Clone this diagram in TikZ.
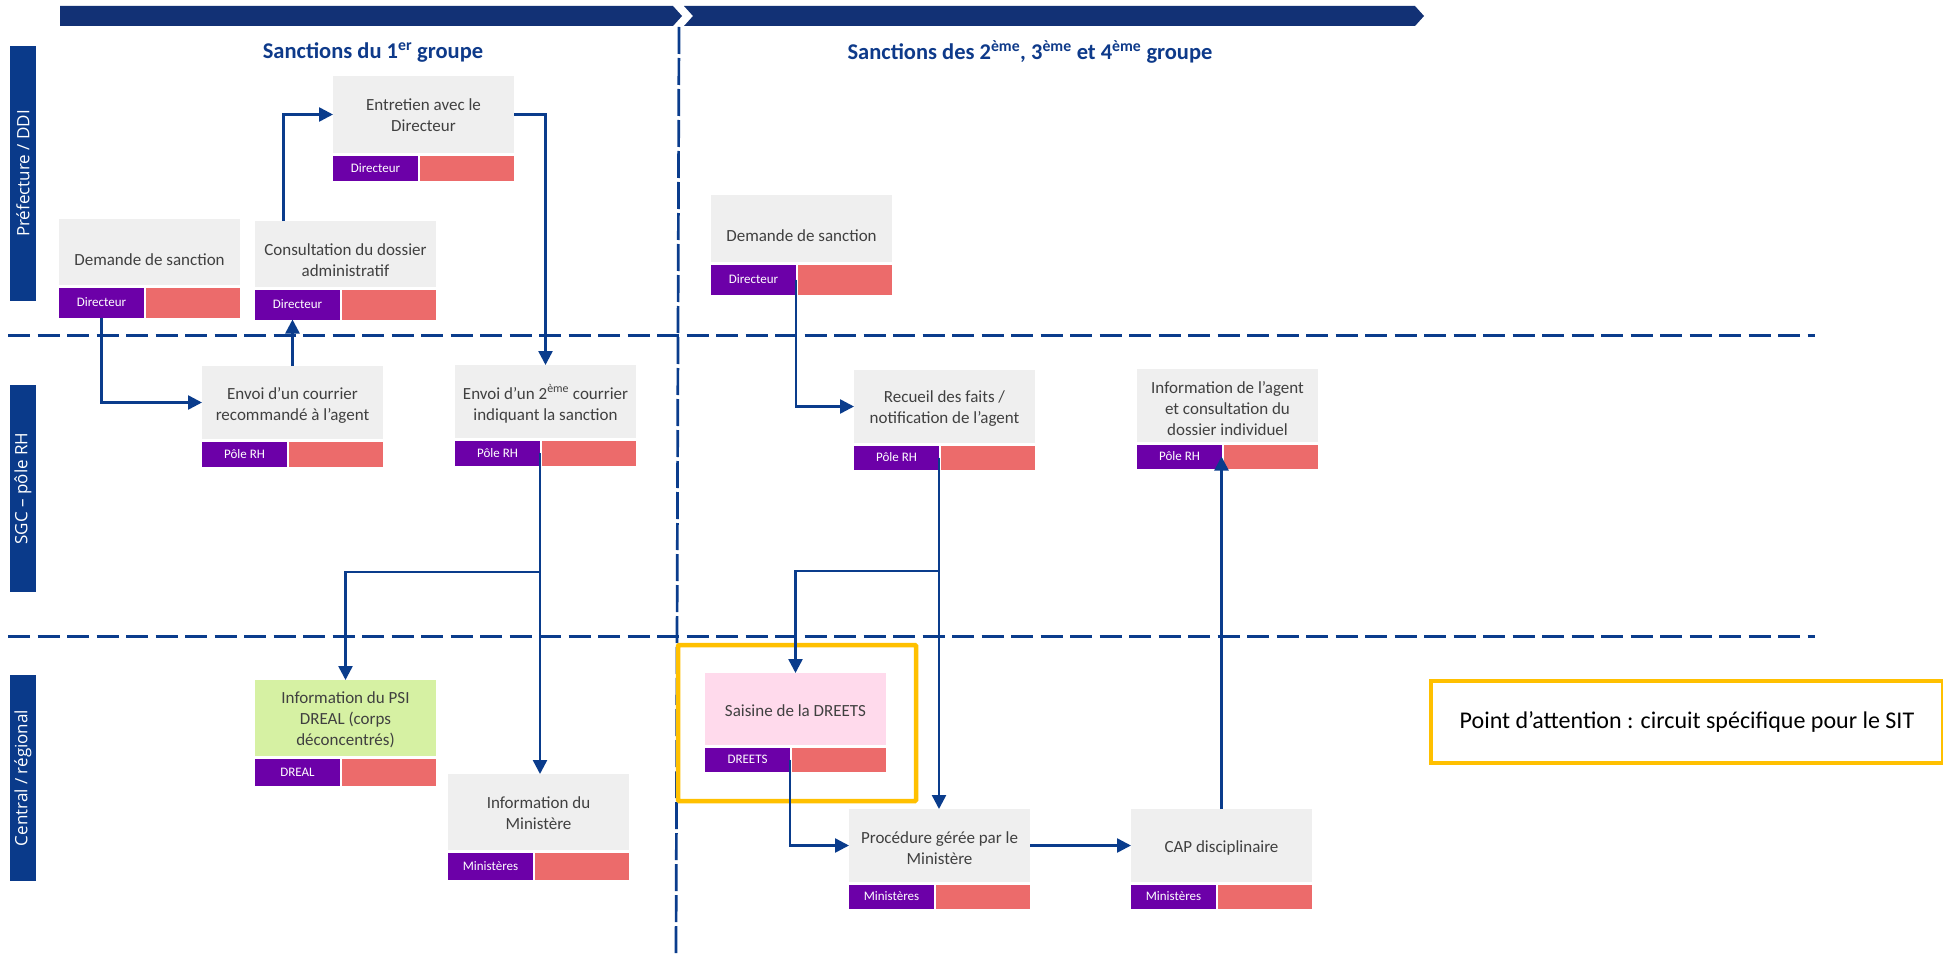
\documentclass[tikz,border=0pt]{standalone}
\usepackage{fontspec}
\setmainfont{Carlito}
\newfontfamily\lanefont{Open Sans}
\usetikzlibrary{arrows.meta,calc}
\definecolor{barnavy}{RGB}{18,49,117}
\definecolor{lanenavy}{RGB}{10,58,138}
\definecolor{linenavy}{RGB}{10,60,140}
\definecolor{titlenavy}{RGB}{14,58,138}
\definecolor{boxgray}{RGB}{239,239,239}
\definecolor{tagpurple}{RGB}{108,0,168}
\definecolor{tagsalmon}{RGB}{236,107,107}
\definecolor{boxgreen}{RGB}{214,241,163}
\definecolor{boxpink}{RGB}{255,218,236}
\definecolor{attyellow}{RGB}{255,192,0}
\definecolor{txtgray}{RGB}{64,64,64}
\tikzset{
 gbox/.style={fill=boxgray, inner sep=0pt, outer sep=0pt, minimum width=181pt, anchor=north west},
 btext/.style={inner sep=0pt, align=center, text=txtgray, font=\fontsize{17}{21}\selectfont},
 ptag/.style={fill=tagpurple, inner sep=0pt, outer sep=0pt, minimum width=85pt, text=white, font=\fontsize{13}{15}\selectfont, anchor=north west},
 stag/.style={fill=tagsalmon, inner sep=0pt, outer sep=0pt, minimum width=94pt, anchor=north west},
 conn/.style={draw=linenavy, line width=2.5pt, -{Triangle[length=14pt,width=14pt]}},
 hsep/.style={draw=linenavy, line width=3pt, dash pattern=on 22pt off 7.5pt},
 vsep/.style={draw=linenavy, line width=2.7pt, dash pattern=on 27pt off 4pt},
 lane/.style={fill=lanenavy, text=white, rotate=90, inner sep=0pt, minimum height=26pt, font=\lanefont\fontsize{17}{20}\selectfont},
 ttl/.style={text=titlenavy, font=\bfseries\fontsize{22.5}{26}\selectfont},
 yframe/.style={draw=attyellow, line width=4.5pt, rounded corners=1pt},
}
% #1 name, #2 x, #3 y, #4 box height, #5 tag height, #6 fill, #7 text, #8 tag text, #9 text shift down
\newcommand\procbox[9]{%
 \node[gbox, fill=#6, minimum height=#4pt] (#1) at (#2,#3) {};
 \node[btext] (#1x) at ([yshift=-#9pt]#1.center) {#7};
 \node[ptag, minimum height=#5pt] (#1p) at ([yshift=-2.5pt]#1.south west) {#8};
 \node[stag, minimum height=#5pt] (#1s) at ([xshift=2pt]#1p.north east) {};
}
\begin{document}
\begin{tikzpicture}[x=1pt,y=-1pt]
\useasboundingbox (0,0) rectangle (1943,955);
\fill[white] (0,0) rectangle (1943,955);

% top chevron bars
\fill[barnavy] (60,6) -- (673,6) -- (682,16) -- (673,26) -- (60,26) -- cycle;
\fill[barnavy] (684,6) -- (1415,6) -- (1424,16) -- (1415,26) -- (684,26) -- (693,16) -- cycle;

% separators
\draw[hsep] (8,335) -- (1815,335);
\draw[hsep] (8,636) -- (1815,636);
\draw[vsep] (679,27) -- (676,955);

% lane labels
\node[lane, minimum width=255pt] (l1) at (23,173.5) {Préfecture / DDI};
\node[lane, minimum width=207pt] (l2) at (23,488.5) {SGC – pôle RH};
\node[lane, minimum width=206pt] (l3) at (23,778) {Central / régional};

% titles
\node[ttl] (t1) at (373,52) {Sanctions du 1\textsuperscript{er} groupe};
\node[ttl] (t2) at (1030,52) {Sanctions des 2\textsuperscript{ème}, 3\textsuperscript{ème} et 4\textsuperscript{ème} groupe};

% yellow frame
\draw[yframe] (678,645) rectangle (916,801);

% boxes
\procbox{dL}{59}{219}{66}{30}{boxgray}{Demande de sanction}{Directeur}{8}
\procbox{cons}{255}{221}{66}{30}{boxgray}{Consultation du dossier\\administratif}{Directeur}{6.5}
\procbox{entr}{333}{76}{77}{25}{boxgray}{Entretien avec le\\Directeur}{Directeur}{1}
\procbox{env1}{202}{366}{73}{25}{boxgray}{Envoi d’un courrier\\recommandé à l’agent}{Pôle RH}{2.8}
\procbox{env2}{455}{365}{73}{25}{boxgray}{Envoi d’un 2\textsuperscript{ème} courrier\\indiquant la sanction}{Pôle RH}{2.4}
\procbox{psi}{255}{680}{76}{27}{boxgreen}{Information du PSI\\DREAL (corps\\déconcentrés)}{DREAL}{1.5}
\procbox{mini}{448}{774}{76}{27}{boxgray}{Information du\\Ministère}{Ministères}{1}
\procbox{dR}{711}{195}{67}{30}{boxgray}{Demande de sanction}{Directeur}{7}
\procbox{rec}{854}{370}{73}{24}{boxgray}{Recueil des faits /\\notification de l’agent}{Pôle RH}{2.4}
\procbox{info}{1137}{369}{73}{24}{boxgray}{Information de l’agent\\et consultation du\\dossier individuel}{Pôle RH}{3}
\procbox{sai}{705}{673}{72}{24}{boxpink}{Saisine de la DREETS}{DREETS}{2}
\procbox{proc}{849}{809}{73}{24}{boxgray}{Procédure gérée par le\\Ministère}{Ministères}{2.4}
\procbox{cap}{1131}{809}{73}{24}{boxgray}{CAP disciplinaire}{Ministères}{2}

% legend
\node[draw=attyellow, line width=4pt, minimum width=512pt, minimum height=82pt, inner sep=0pt, anchor=north west, font=\fontsize{24}{28}\selectfont] (legend) at (1429,679) {Point d’attention : circuit spécifique pour le SIT};

% connectors
\draw[conn] (dLp.south) |- (env1.west);
\draw[conn] (env1.north) -- (env1.north |- consp.south);
\draw[conn] ([xshift=-62pt]cons.north) |- (entr.west);
\draw[conn] (entr.east) -| (env2.north);
\draw[conn] (env2p.east) -- (env2p.east |- mini.north);
\coordinate (br1) at ($(env2p.east)+(0,119)$);
\draw[conn] (br1) -| (psi.north);
\draw[conn] (dRp.east) |- (rec.west);
\draw[conn] (recp.east) -- (recp.east |- proc.north);
\coordinate (br2) at ($(recp.east)+(0,113.5)$);
\draw[conn] (br2) -| (sai.north);
\draw[conn] (saip.east) |- (proc.west);
\draw[conn] (proc.east) -- (cap.west);
\draw[conn] (cap.north) -- (cap.north |- infop.east);
\end{tikzpicture}
\end{document}
